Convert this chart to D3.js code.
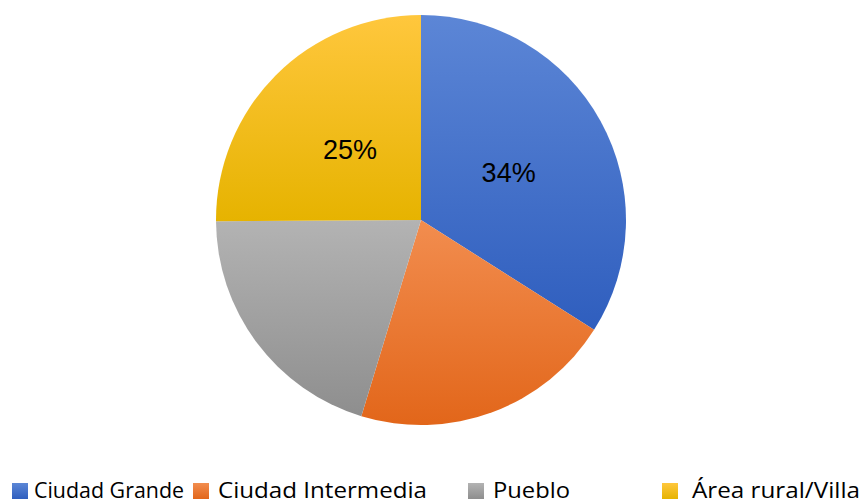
<!DOCTYPE html>
<html>
<head>
<meta charset="utf-8">
<script src="https://cdn.jsdelivr.net/npm/d3@7"></script>
<style>
  html, body { margin: 0; padding: 0; background: #ffffff; }
  svg { display: block; }
</style>
</head>
<body>
<svg id="chart" width="865" height="503"></svg>
<script>
// Data
const categories = ["Ciudad Grande", "Ciudad Intermedia", "Pueblo", "Área rural/Villa"];
const values = [34, 20.7, 20.2, 25.1];
const shownLabels = ["34%", "", "", "25%"];
const colorsTop = ["#5c86d6", "#f28d4f", "#b3b3b3", "#ffc73d"];
const colorsBottom = ["#2f5ebe", "#e2661a", "#8e8e8e", "#e6b300"];
const legendTextWidths = [150, 209, 77, 168];
const legendX = [12, 193, 468, 662];
const legendTextOffset = [22, 25, 25, 30];

const svg = d3.select("#chart");
const defs = svg.append("defs");

categories.forEach((c, i) => {
  const g = defs.append("linearGradient")
    .attr("id", "grad" + i)
    .attr("x1", 0).attr("y1", 0).attr("x2", 0).attr("y2", 1);
  g.append("stop").attr("offset", "0%").attr("stop-color", colorsTop[i]);
  g.append("stop").attr("offset", "100%").attr("stop-color", colorsBottom[i]);
});

const cx = 421, cy = 220, r = 205;

const pie = d3.pie().value(d => d).sort(null);
const arcs = pie(values);
const arc = d3.arc().innerRadius(0).outerRadius(r);
const labelArc = d3.arc().innerRadius(200).outerRadius(0);

const g = svg.append("g").attr("transform", `translate(${cx},${cy})`);

g.selectAll("path.slice")
  .data(arcs)
  .join("path")
  .attr("class", "slice")
  .attr("d", arc)
  .attr("fill", (d, i) => `url(#grad${i})`);

g.selectAll("text.lbl")
  .data(arcs)
  .join("text")
  .attr("class", "lbl")
  .attr("transform", d => {
    const [x, y] = labelArc.centroid(d);
    return `translate(${x},${y})`;
  })
  .attr("dy", "0.36em")
  .attr("text-anchor", "middle")
  .attr("font-family", "'Liberation Sans', Arial, sans-serif")
  .attr("font-size", 27)
  .attr("fill", "#000")
  .text((d, i) => shownLabels[i]);

// Legend
const legend = svg.append("g");
categories.forEach((c, i) => {
  const item = legend.append("g").attr("transform", `translate(${legendX[i]},0)`);
  item.append("rect")
    .attr("x", 0).attr("y", 483)
    .attr("width", 16).attr("height", 16)
    .attr("fill", `url(#grad${i})`);
  item.append("text")
    .attr("x", legendTextOffset[i])
    .attr("y", 498)
    .attr("font-family", "'Open Sans', 'DejaVu Sans', sans-serif")
    .attr("font-size", 21)
    .attr("fill", "#000")
    .attr("textLength", legendTextWidths[i])
    .attr("lengthAdjust", "spacingAndGlyphs")
    .text(c);
});
</script>
</body>
</html>
